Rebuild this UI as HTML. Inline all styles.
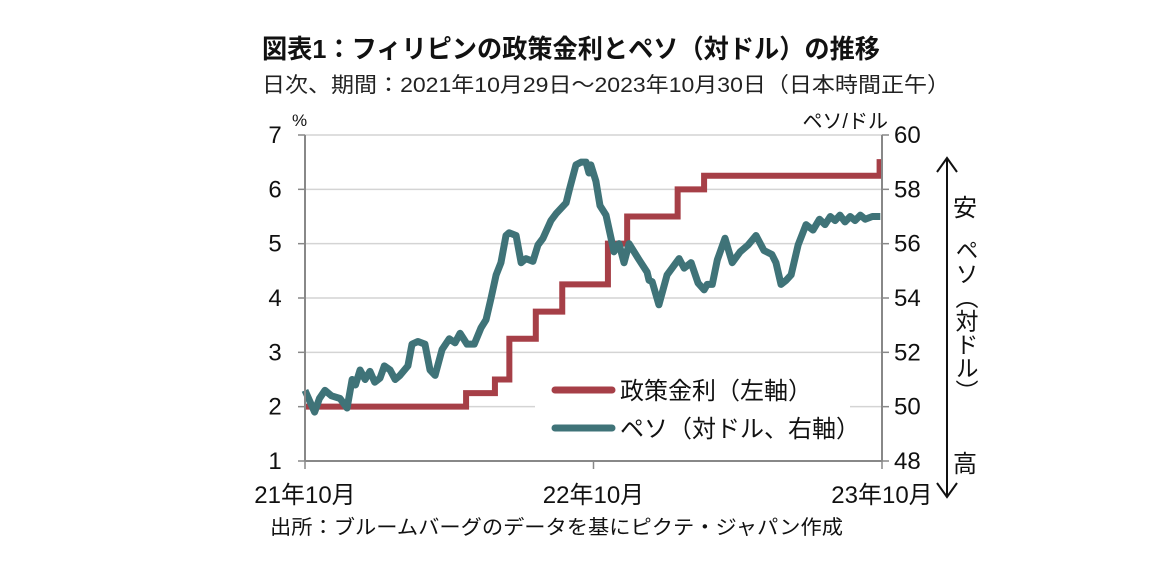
<!DOCTYPE html>
<html><head><meta charset="utf-8">
<style>
body{margin:0;background:#fff;}
svg{display:block;font-family:"Liberation Sans","Noto Sans CJK JP",sans-serif;}
</style></head>
<body>
<svg id="chart" width="1152" height="571" viewBox="0 0 1152 571">
<text x="262" y="58" font-size="26" font-weight="bold" fill="#111" textLength="618" lengthAdjust="spacingAndGlyphs">図表1：フィリピンの政策金利とペソ（対ドル）の推移</text>
<text x="262" y="92" font-size="21" fill="#222" textLength="688" lengthAdjust="spacingAndGlyphs">日次、期間：2021年10月29日～2023年10月30日（日本時間正午）</text>
<text x="292" y="126" font-size="17" fill="#111">%</text>
<text x="888" y="128" font-size="20" fill="#111" text-anchor="end">ペソ/ドル</text>
<g id="grid"></g>
<g id="series"></g>
<g id="axes"></g>
<rect x="535" y="370" width="315" height="82" fill="#fff"/>
<g>
<line x1="555" y1="390" x2="612" y2="390" stroke="#a63f47" stroke-width="7" stroke-linecap="round"/>
<text x="620" y="399" font-size="24" fill="#111">政策金利（左軸）</text>
<line x1="555" y1="428" x2="612" y2="428" stroke="#3f7378" stroke-width="7" stroke-linecap="round"/>
<text x="620" y="437" font-size="24" fill="#111">ペソ（対ドル、右軸）</text>
</g>
<g>
<line x1="947" y1="160" x2="947" y2="495" stroke="#111" stroke-width="2"/>
<polyline points="937,172 947,158 957,172" fill="none" stroke="#111" stroke-width="2"/>
<polyline points="937,483 947,497 957,483" fill="none" stroke="#111" stroke-width="2"/>
<text x="965" y="216" font-size="24" text-anchor="middle" fill="#111">安</text>
<text x="965" y="472" font-size="24" text-anchor="middle" fill="#111">高</text>
<text x="965" y="238" font-size="23" fill="#111" style="writing-mode:vertical-rl" textLength="165" lengthAdjust="spacingAndGlyphs">ペソ（対ドル）</text>
</g>
<text x="270" y="534" font-size="20" fill="#111" textLength="573" lengthAdjust="spacingAndGlyphs">出所：ブルームバーグのデータを基にピクテ・ジャパン作成</text>
</svg>
<script>
const leftTicks=[1,2,3,4,5,6,7];
const rightTicks=[48,50,52,54,56,58,60];
const xTickMonths=[0,12,24];
const xTickLabels=["21年10月","22年10月","23年10月"];
const rateMonths=[0,6.7,7.9,8.5,9.6,10.7,12.6,13.4,15.5,16.6,23.9,24];
const rateValues=[2.0,2.25,2.5,3.25,3.75,4.25,5.0,5.5,6.0,6.25,6.5,6.5];
const pesoMonths=[0,0.2,0.4,0.6,0.83,1.1,1.46,1.75,1.96,2.1,2.29,2.5,2.7,2.9,3.12,3.3,3.54,3.75,3.95,4.28,4.45,4.7,4.99,5.2,5.41,5.7,6.0,6.24,6.45,6.74,7.04,7.32,7.53,7.74,7.95,8.15,8.36,8.49,8.78,8.99,9.19,9.48,9.69,9.9,10.23,10.44,10.86,11.0,11.27,11.48,11.69,11.81,11.89,12.1,12.27,12.52,12.73,12.85,13.06,13.27,13.48,13.9,14.23,14.31,14.44,14.72,15.06,15.35,15.56,15.77,16.06,16.35,16.6,16.73,16.94,17.15,17.47,17.77,18.1,18.43,18.76,19.09,19.42,19.59,19.8,20.01,20.22,20.51,20.84,21.13,21.4,21.63,21.85,22.05,22.25,22.46,22.68,22.88,23.1,23.3,23.6,23.93];
const pesoValues=[50.6,50.2,49.8,50.3,50.6,50.4,50.3,49.95,51.0,50.8,51.35,51.0,51.3,50.9,51.05,51.5,51.35,51.0,51.15,51.5,52.3,52.4,52.3,51.35,51.15,52.1,52.5,52.35,52.7,52.3,52.3,52.9,53.2,54.0,54.85,55.3,56.3,56.4,56.3,55.3,55.45,55.35,55.95,56.2,56.85,57.1,57.5,58.0,58.9,59.0,59.0,58.6,58.9,58.3,57.4,57.05,56.2,55.7,56.0,55.3,56.0,55.4,54.95,54.65,54.6,53.75,54.85,55.2,55.45,55.1,55.3,54.55,54.3,54.5,54.5,55.4,56.2,55.3,55.7,55.95,56.3,55.75,55.6,55.3,54.5,54.65,54.85,55.95,56.7,56.5,56.9,56.7,57.0,56.85,57.05,56.8,57.0,56.85,57.05,56.9,57.0,57.0];
const X0=305,X1=882,Y0=461,Y1=135;
const ns="http://www.w3.org/2000/svg";
const xs=m=>X0+(m/24)*(X1-X0);
const yl=v=>Y0-(v-1)/6*(Y0-Y1);
const yr=v=>Y0-(v-48)/12*(Y0-Y1);
function mk(tag,attrs,parent){const e=document.createElementNS(ns,tag);for(const k in attrs)e.setAttribute(k,attrs[k]);parent.appendChild(e);return e;}
const grid=document.getElementById('grid'),ser=document.getElementById('series'),ax=document.getElementById('axes');
leftTicks.forEach(v=>{
  if(v>1){const g=mk('line',{x1:X0,x2:X1,y1:yl(v),y2:yl(v),stroke:'#d4d4d4','stroke-width':1.5},grid);
  
  }
  mk('line',{x1:X0-7,x2:X0,y1:yl(v),y2:yl(v),stroke:'#888','stroke-width':1.5},ax);
  const t=mk('text',{x:X0-30,y:yl(v)+8,'font-size':24,'text-anchor':'middle',fill:'#111'},ax);t.textContent=v;
  
  
});
rightTicks.forEach(v=>{
  mk('line',{x1:X1,x2:X1+7,y1:yr(v),y2:yr(v),stroke:'#888','stroke-width':1.5},ax);
  const t=mk('text',{x:X1+12,y:yr(v)+8,'font-size':24,fill:'#111'},ax);t.textContent=v;
  
  
});
mk('line',{x1:X0,x2:X0,y1:Y1,y2:Y0,stroke:'#888','stroke-width':2},ax);
mk('line',{x1:X1,x2:X1,y1:Y1,y2:Y0,stroke:'#888','stroke-width':2},ax);
mk('line',{x1:X0,x2:X1,y1:Y0,y2:Y0,stroke:'#888','stroke-width':2},ax);
xTickMonths.forEach((m,i)=>{
  mk('line',{x1:xs(m),x2:xs(m),y1:Y0,y2:Y0+8,stroke:'#888','stroke-width':1.5},ax);
  const t=mk('text',{x:xs(m),y:Y0+42,'font-size':24,'text-anchor':'middle',fill:'#111'},ax);t.textContent=xTickLabels[i];
  
  
});
let d='';
rateMonths.forEach((m,i)=>{if(i===0)d+='M'+xs(m)+','+yl(rateValues[i]);else d+=' L'+xs(m)+','+yl(rateValues[i-1])+' L'+xs(m)+','+yl(rateValues[i]);});
const rp=mk('path',{d:d,fill:'none',stroke:'#a63f47','stroke-width':6},ser);


const pp=mk('polyline',{points:pesoMonths.map((m,i)=>xs(m)+','+yr(pesoValues[i])).join(' '),fill:'none',stroke:'#3f7378','stroke-width':7,'stroke-linejoin':'round'},ser);


</script>
</body></html>
